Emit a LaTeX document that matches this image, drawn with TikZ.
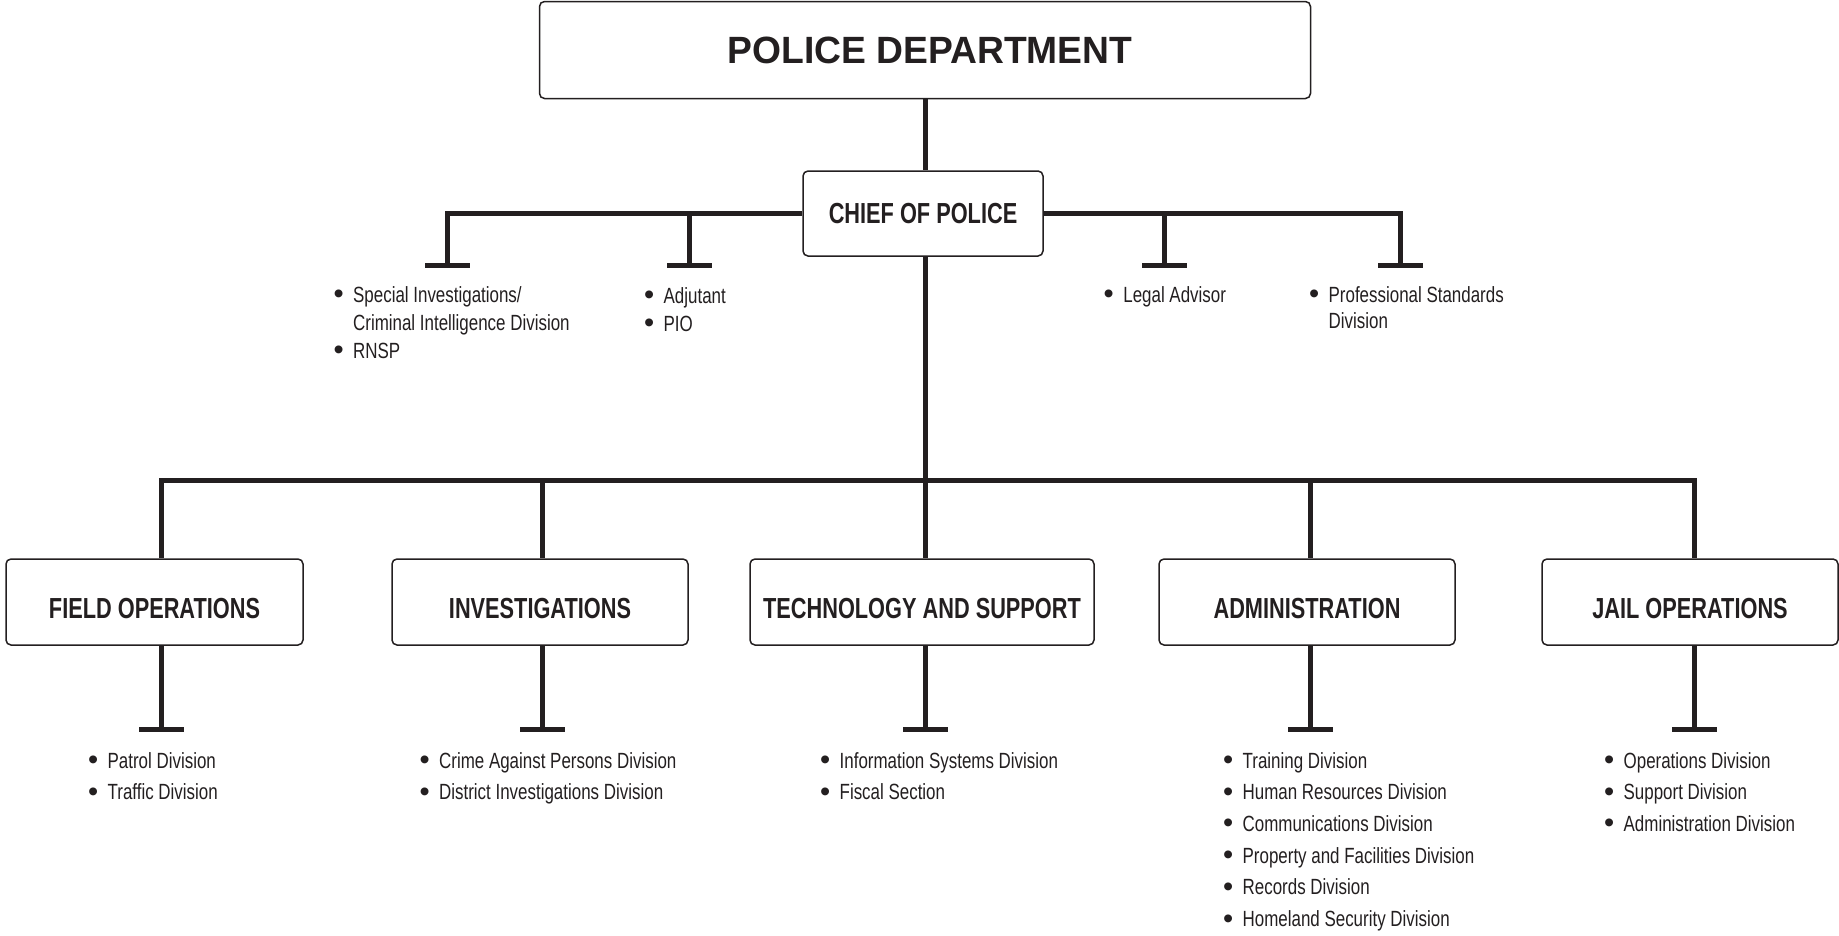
\documentclass[tikz,border=0pt]{standalone}
\usepackage{fontspec}
\usetikzlibrary{arrows.meta}
\newfontfamily\condfont{Liberation Sans}[FakeStretch=0.77]
\newfontfamily\condbold{Liberation Sans}[FakeStretch=0.75]
\newfontfamily\titlefont{Liberation Sans}[FakeStretch=0.98]
\newfontfamily\plainfont{Liberation Sans}
\definecolor{ink}{HTML}{231F20}
\newcommand{\itembullet}{{\plainfont\fontsize{29}{0}\selectfont\raisebox{-1.5pt}{\textbullet}}&}
\newcommand{\blist}[1]{\begin{tabular}[t]{@{}c@{\hspace{9.5pt}}l@{}}#1\end{tabular}}
\tikzset{
  unit/.style={draw=ink, line width=1.5pt, rounded corners=5pt, text=ink, inner sep=0pt,
    minimum height=86pt, font=\condbold\bfseries\fontsize{29}{34}\selectfont},
  conn/.style={draw=ink, line width=5pt},
  stub/.style={conn, -{Bar[width=45pt, line width=5pt]}},
  bullets/.style={anchor=base west, inner sep=0pt, text=ink, font=\condfont\fontsize{22}{#1}\selectfont},
  bullets/.default=28
}
\begin{document}
\begin{tikzpicture}[x=1pt, y=-1pt]
\useasboundingbox (0,0) rectangle (1839,935);
\node[unit, minimum width=771pt, minimum height=97pt, font=\titlefont\bfseries\fontsize{38}{44}\selectfont] (pd) at (925,50) {\hspace{10pt}POLICE DEPARTMENT};
\node[unit, minimum width=240pt, minimum height=85pt] (chief) at (923,213.5) {CHIEF OF POLICE};
\foreach \n/\x/\w/\t in {fo/154.5/297/FIELD OPERATIONS, inv/540/296/INVESTIGATIONS,
    tech/922/344/TECHNOLOGY AND SUPPORT, adm/1307/296/ADMINISTRATION, jail/1690/296/JAIL OPERATIONS}
  \node[unit, minimum width=\w pt, text height=32pt, text depth=0pt] (\n) at (\x,602) {\t};

\draw[conn] (pd.south) -- (pd.south |- chief.north);
\coordinate (sis) at (447,267.5);
\coordinate (adj) at (689,267.5);
\coordinate (legal) at (1164,267.5);
\coordinate (pstd) at (1400,267.5);
\draw[stub] (chief.west) -| (sis);
\draw[stub] (adj |- chief.west) -- (adj);
\draw[stub] (chief.east) -| (pstd);
\draw[stub] (legal |- chief.east) -- (legal);

\coordinate (bus) at (925,480);
\draw[conn] (chief.south -| bus) -- (bus);
\foreach \n/\x in {fo/161,inv/542,tech/925,adm/1310,jail/1694} {
  \coordinate (top\n) at (\x,480);
  \coordinate (end\n) at (\x,731.5);
  \draw[stub] (top\n |- \n.south) -- (end\n);
}
\draw[conn] (topfo |- fo.north) -- (topfo) -- (topjail) -- (topjail |- jail.north);
\foreach \n in {inv,tech,adm}
  \draw[conn] (top\n) -- (top\n |- \n.north);

\node[bullets] (sisl) at (333.3,302) {\blist{\itembullet Special Investigations/\\ & Criminal Intelligence Division\\ \itembullet RNSP}};
\node[bullets] (adjl) at (643.8,303) {\blist{\itembullet Adjutant\\ \itembullet PIO}};
\node[bullets] (legall) at (1103.5,302) {\blist{\itembullet Legal Advisor}};
\node[bullets=26] (pstdl) at (1308.8,302) {\blist{\itembullet Professional Standards\\ & Division}};

\node[bullets=31.7] (fol) at (87.8,768) {\blist{\itembullet Patrol Division\\ \itembullet Traffic Division}};
\node[bullets=31.7] (invl) at (419.3,768) {\blist{\itembullet Crime Against Persons Division\\ \itembullet District Investigations Division}};
\node[bullets=31.7] (techl) at (819.8,768) {\blist{\itembullet Information Systems Division\\ \itembullet Fiscal Section}};
\node[bullets=31.7] (adml) at (1222.8,768) {\blist{\itembullet Training Division\\ \itembullet Human Resources Division\\ \itembullet Communications Division\\
  \itembullet Property and Facilities Division\\ \itembullet Records Division\\ \itembullet Homeland Security Division}};
\node[bullets=31.7] (jaill) at (1603.8,768) {\blist{\itembullet Operations Division\\ \itembullet Support Division\\ \itembullet Administration Division}};
\end{tikzpicture}
\end{document}
